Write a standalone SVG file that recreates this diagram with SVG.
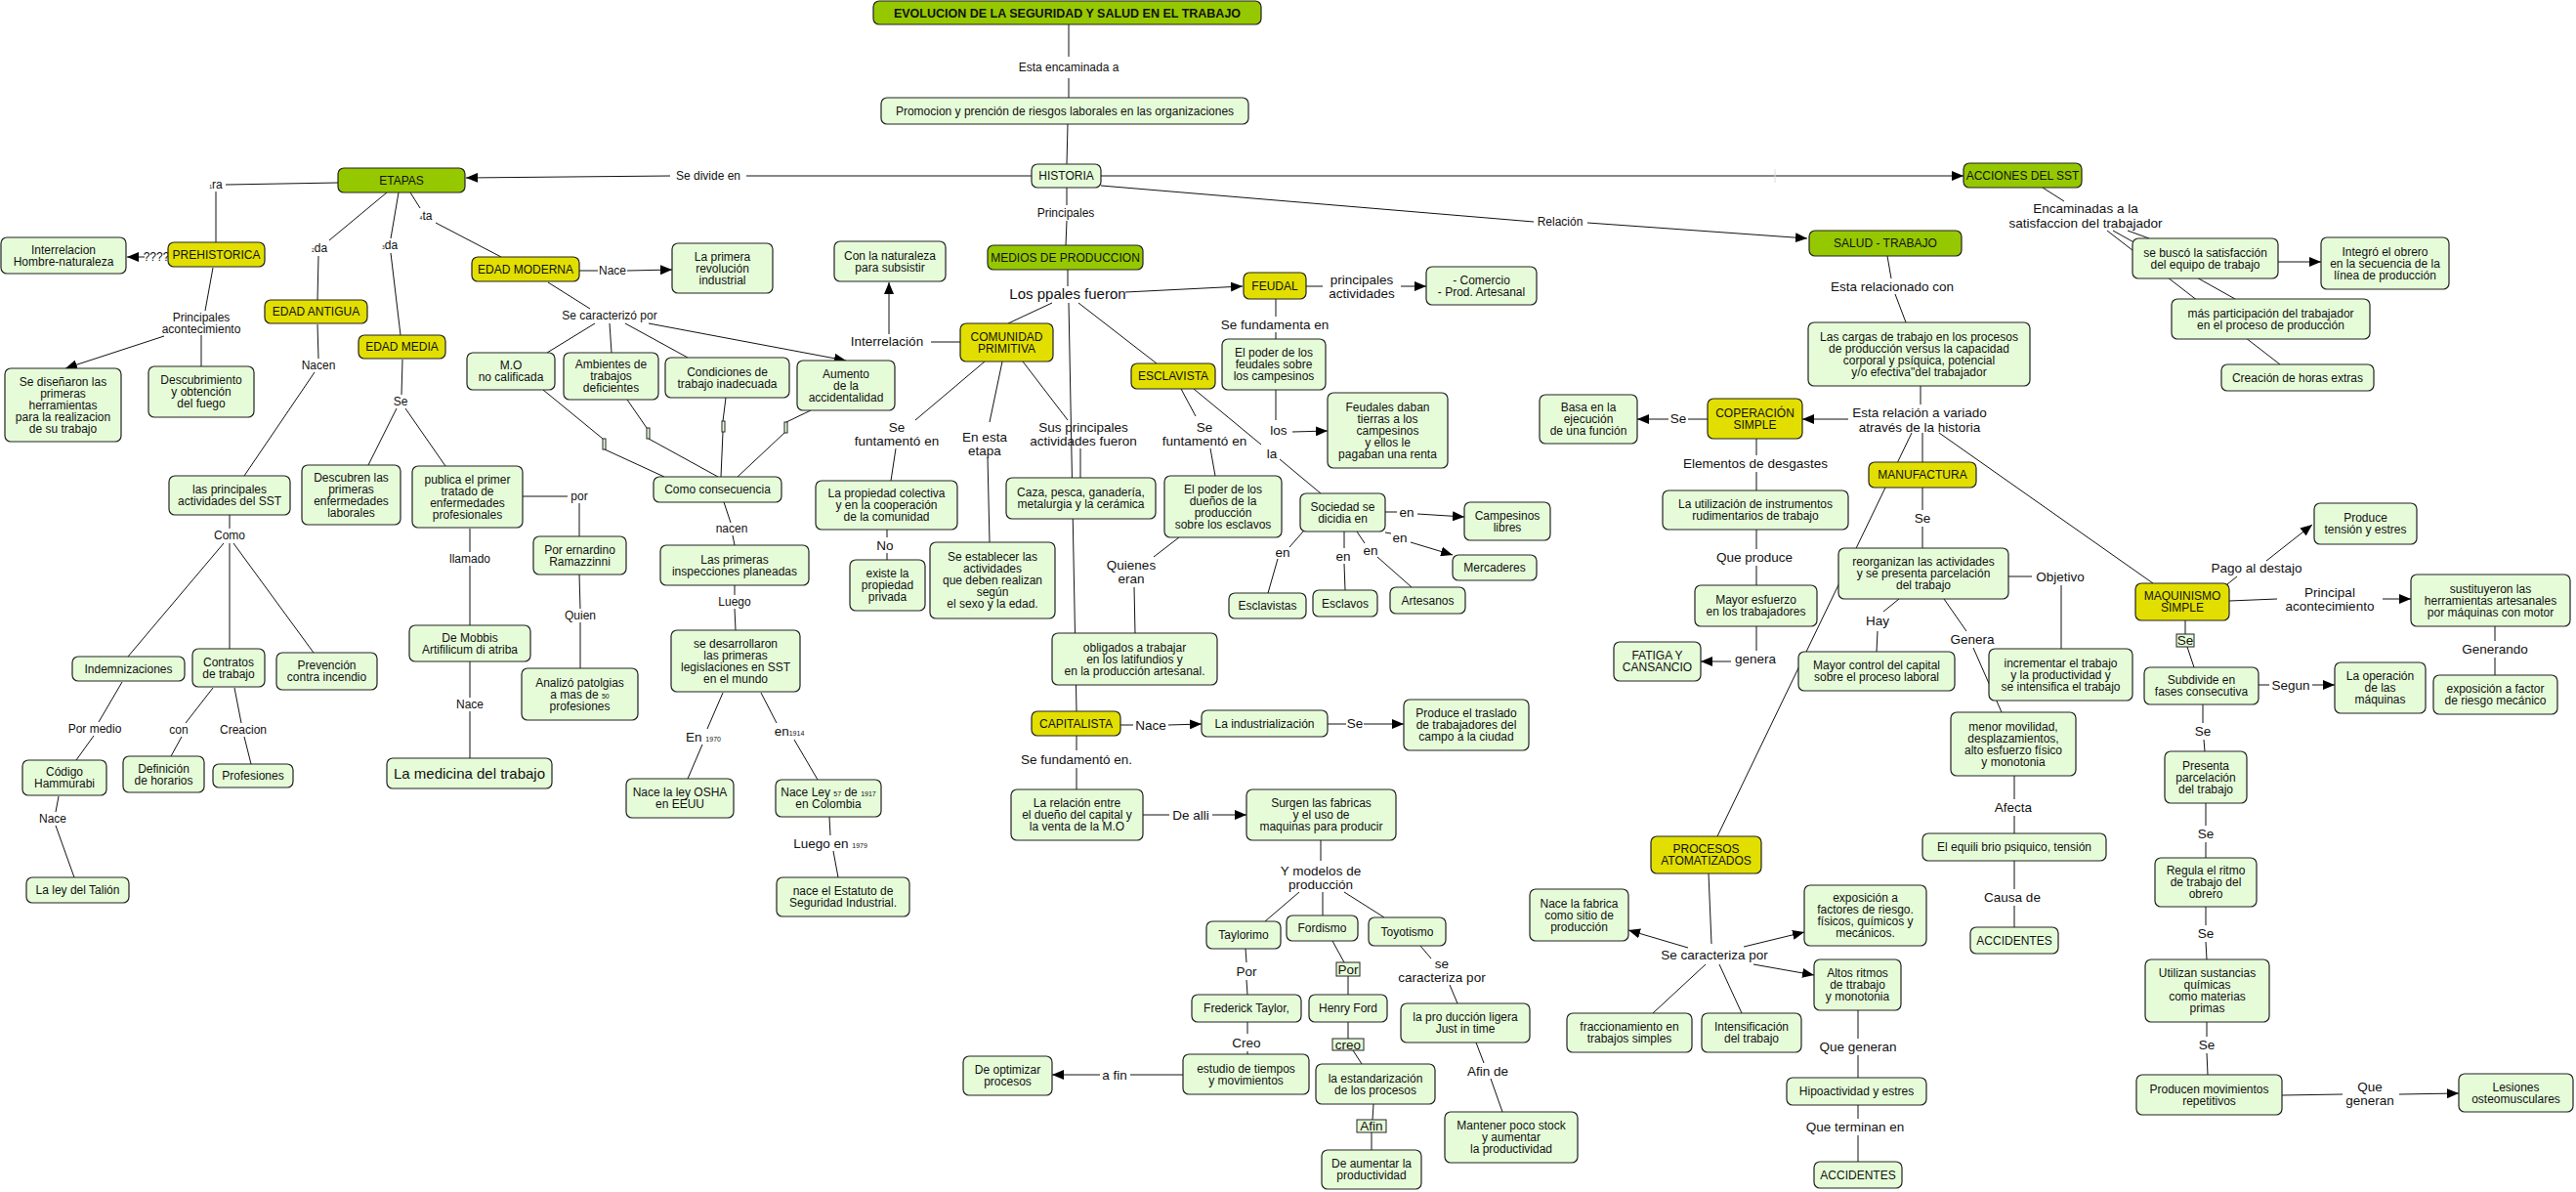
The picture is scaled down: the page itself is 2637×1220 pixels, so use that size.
<svg xmlns="http://www.w3.org/2000/svg" width="2637" height="1220" viewBox="0 0 2637 1220">
<defs>
<marker id="ar" markerUnits="userSpaceOnUse" markerWidth="12" markerHeight="10" refX="12" refY="5" orient="auto"><path d="M0,0 L12,5 L0,10 z" fill="#000"/></marker>
<style>
rect{stroke:#222;stroke-width:1.2}
rect.bg{fill:#fff;stroke:none}
.n{fill:#e6fcd9}
.g{fill:#96c800}
.y{fill:#e2df00}
.m{fill:#e6fcd9;stroke:#222;stroke-width:1}
text{font-family:"Liberation Sans",Arial,sans-serif;font-size:12px;text-anchor:middle;fill:#111}
.tt{font-weight:bold;font-size:12.5px}
.L{font-size:13.5px}
.B{font-size:15px}
.s{font-size:7px}
.c path{stroke:#111;stroke-width:1;fill:none}
.c path.a{marker-end:url(#ar)}
</style>
</defs>
<rect class="bg" width="2637" height="1220"/>
<g class="c">
<path d="M1094,25 L1094,58 M1094,80 L1094,100 M1093,127 L1092,168"/>
<path d="M1056,180 L764,180"/>
<path class="a" d="M686,180 L477,182"/>
<path class="a" d="M1127,180 L2010,180"/>
<path d="M1817,173 L1817,187" style="stroke:#ddd"/>
<path d="M1127,190 L1570,227"/>
<path class="a" d="M1625,228 L1850,244"/>
<path d="M1092,192 L1092,210 M1092,226 L1091,251"/>
<path d="M1932,262 L1936,285 M1940,301 L1951,330"/>
<path d="M2091,192 L2113,206"/>
<path d="M2157,236 L2334,373 M2163,236 L2288,306 M2178,236 L2200,244"/>
<path class="a" d="M2332,268 L2376,268"/>
<path d="M1966,395 L1966,414"/>
<path class="a" d="M1892,429 L1845,429"/>
<path d="M1968,443 L1968,473 M1957,443 L1758,856 M1985,443 L2204,597"/>
<path d="M1748,429 L1728,429"/>
<path class="a" d="M1708,429 L1676,429"/>
<path d="M1798,449 L1798,466 M1798,483 L1798,502 M1798,542 L1798,562 M1798,579 L1798,599 M1798,641 L1798,666"/>
<path class="a" d="M1772,677 L1741,677"/>
<path d="M1968,499 L1968,522 M1968,539 L1968,561"/>
<path d="M2056,590 L2080,590 M2110,599 L2110,664"/>
<path d="M1944,613 L1928,626 M1922,646 L1921,667"/>
<path d="M1990,613 L2013,646 M2020,663 L2049,729"/>
<path d="M2062,794 L2062,818 M2062,835 L2062,853 M2062,881 L2062,910 M2062,927 L2062,949"/>
<path d="M2280,598 L2290,590"/>
<path class="a" d="M2320,574 L2367,537"/>
<path d="M2282,615 L2331,613"/>
<path class="a" d="M2439,613 L2468,613"/>
<path d="M2554,641 L2554,656 M2554,673 L2554,691"/>
<path d="M2237,635 L2237,649 M2239,662 L2246,683"/>
<path d="M2312,701 L2323,701"/>
<path class="a" d="M2367,701 L2390,701"/>
<path d="M2255,721 L2255,740 M2256,757 L2257,769 M2258,822 L2258,845 M2258,862 L2258,878 M2258,928 L2258,947 M2258,964 L2259,982 M2259,1046 L2259,1061 M2259,1078 L2260,1100"/>
<path d="M2336,1121 L2398,1120"/>
<path class="a" d="M2456,1120 L2517,1119"/>
<path d="M346,187 L231,189 M221,196 L221,248"/>
<path class="a" d="M148,263 L130,263"/>
<path d="M218,274 L210,318"/>
<path class="a" d="M168,344 L67,377"/>
<path d="M206,343 L206,375"/>
<path d="M396,197 L337,246 M326,262 L325,307 M325,332 L326,367 M322,381 L250,487 M235,527 L235,541"/>
<path d="M229,556 L131,672 M235,556 L235,664 M239,556 L321,668"/>
<path d="M125,698 L101,739 M96,753 L78,778 M60,815 L57,831 M57,845 L76,898"/>
<path d="M218,704 L190,740 M186,754 L175,774 M240,704 L247,740 M250,754 L257,782"/>
<path d="M408,197 L400,244 M400,259 L410,343 M412,368 L411,404 M406,418 L377,476 M415,418 L456,477"/>
<path d="M535,508 L581,508 M593,515 L593,549 M593,588 L594,623 M594,637 L594,684"/>
<path d="M481,541 L481,565 M481,579 L481,640 M481,677 L481,714 M481,728 L481,776"/>
<path d="M420,197 L430,213 M446,228 L513,263"/>
<path d="M593,277 L612,277"/>
<path class="a" d="M642,277 L688,276"/>
<path d="M561,289 L604,316"/>
<path d="M609,331 L560,361 M624,331 L626,361 M640,331 L704,366"/>
<path class="a" d="M664,331 L866,369"/>
<path d="M556,399 L617,449 M619,460 L680,488 M642,409 L662,438 M664,449 L735,488 M743,407 L740,431 M740,442 L738,488 M830,420 L805,432 M803,443 L755,488"/>
<path d="M741,514 L748,535 M750,548 L752,558 M752,599 L752,609 M752,623 L753,645"/>
<path d="M740,709 L724,746 M719,762 L704,797 M779,709 L795,740 M813,757 L837,798 M849,836 L850,855 M853,871 L858,898"/>
<path d="M1093,276 L1093,293"/>
<path class="a" d="M1152,299 L1272,293"/>
<path d="M1077,310 L1032,331 M1094,310 L1102,728 M1104,310 L1184,372"/>
<path d="M983,350 L953,350"/>
<path class="a" d="M910,342 L910,289"/>
<path d="M1008,370 L937,430 M917,459 L912,492 M908,542 L908,550 M908,566 L908,573"/>
<path d="M1026,370 L1013,432 M1011,468 L1013,555"/>
<path d="M1047,370 L1093,430 M1106,459 L1106,489"/>
<path d="M1209,398 L1224,426 M1239,459 L1244,487 M1207,550 L1181,570 M1161,601 L1162,648"/>
<path d="M1222,398 L1291,455 M1310,470 L1352,505"/>
<path d="M1337,293 L1354,293"/>
<path class="a" d="M1434,293 L1460,293"/>
<path d="M1306,306 L1306,324 M1306,340 L1306,347 M1306,399 L1306,430"/>
<path class="a" d="M1323,442 L1359,441"/>
<path d="M1418,524 L1430,524"/>
<path class="a" d="M1451,526 L1499,529"/>
<path d="M1418,545 L1424,546"/>
<path class="a" d="M1444,555 L1487,568"/>
<path d="M1389,544 L1397,556 M1410,570 L1445,601 M1376,544 L1376,561 M1376,577 L1377,604 M1334,544 L1320,560 M1308,572 L1298,607"/>
<path d="M1147,742 L1160,742"/>
<path class="a" d="M1196,742 L1230,741"/>
<path d="M1359,741 L1378,741"/>
<path class="a" d="M1396,741 L1437,741"/>
<path d="M1102,753 L1102,768 M1102,786 L1102,808"/>
<path d="M1170,834 L1197,834"/>
<path class="a" d="M1241,834 L1276,834"/>
<path d="M1352,860 L1352,881 M1330,913 L1295,943 M1354,913 L1354,937 M1376,913 L1417,939"/>
<path d="M1275,971 L1276,985 M1276,1003 L1277,1018 M1277,1046 L1277,1058 M1277,1076 L1277,1079"/>
<path d="M1211,1100 L1157,1100"/>
<path class="a" d="M1126,1100 L1077,1100"/>
<path d="M1364,963 L1376,985 M1380,999 L1380,1018 M1380,1046 L1380,1063 M1385,1075 L1394,1089 M1406,1130 L1405,1146 M1404,1159 L1404,1177"/>
<path d="M1454,968 L1465,981 M1484,1008 L1492,1027 M1511,1067 L1519,1088 M1526,1104 L1538,1138"/>
<path d="M1749,894 L1752,966"/>
<path class="a" d="M1728,970 L1667,952"/>
<path class="a" d="M1785,969 L1847,954"/>
<path class="a" d="M1795,987 L1857,998"/>
<path d="M1746,987 L1692,1037 M1760,987 L1783,1037"/>
<path d="M1902,1034 L1902,1063 M1902,1080 L1902,1103 M1902,1131 L1902,1145 M1902,1162 L1902,1189"/>
</g>
<g id="labels">
<text x="1094" y="73">Esta encaminada a</text>
<text x="725" y="184">Se divide en</text>
<text x="1091" y="222">Principales</text>
<text x="1597" y="231">Relación</text>
<text class="L" x="1937" y="298">Esta relacionado con</text>
<text class="L" x="2135" y="218">Encaminadas a la<tspan x="2135" dy="15">satisfaccion del trabajador</tspan></text>
<text x="221" y="193"><tspan font-size="5">1</tspan>ra</text>
<text x="160" y="267">????</text>
<text x="206" y="329">Principales<tspan x="206" dy="12">acontecimiento</tspan></text>
<text x="327" y="258"><tspan font-size="5">2</tspan>da</text>
<text x="399" y="255"><tspan font-size="5">3</tspan>da</text>
<text x="436" y="225"><tspan font-size="5">4</tspan>ta</text>
<text x="326" y="378">Nacen</text>
<text x="235" y="552">Como</text>
<text x="97" y="750">Por medio</text>
<text x="183" y="751">con</text>
<text x="249" y="751">Creacion</text>
<text x="54" y="842">Nace</text>
<text x="410" y="415">Se</text>
<text x="593" y="512">por</text>
<text x="594" y="634">Quien</text>
<text x="481" y="576">llamado</text>
<text x="481" y="725">Nace</text>
<text x="627" y="281">Nace</text>
<text x="624" y="327">Se caracterizó por</text>
<text x="749" y="545">nacen</text>
<text x="752" y="620">Luego</text>
<text class="L" x="720" y="759">En <tspan class="s">1970</tspan></text>
<text class="L" x="808" y="753">en<tspan class="s">1914</tspan></text>
<text class="L" x="850" y="868">Luego en <tspan class="s">1979</tspan></text>
<text class="L" x="908" y="354">Interrelación</text>
<text class="B" x="1093" y="306">Los ppales fueron</text>
<text class="L" x="918" y="442">Se<tspan x="918" dy="14">funtamentó en</tspan></text>
<text class="L" x="1008" y="452">En esta<tspan x="1008" dy="14">etapa</tspan></text>
<text class="L" x="906" y="563">No</text>
<text class="L" x="1109" y="442">Sus principales<tspan x="1109" dy="14">actividades fueron</tspan></text>
<text class="L" x="1233" y="442">Se<tspan x="1233" dy="14">funtamentó en</tspan></text>
<text class="L" x="1158" y="583">Quienes<tspan x="1158" dy="14">eran</tspan></text>
<text class="L" x="1302" y="469">la</text>
<text class="L" x="1309" y="445">los</text>
<text class="L" x="1394" y="291">principales<tspan x="1394" dy="14">actividades</tspan></text>
<text class="L" x="1305" y="337">Se fundamenta en</text>
<text class="L" x="1440" y="529">en</text>
<text class="L" x="1433" y="555">en</text>
<text class="L" x="1403" y="568">en</text>
<text class="L" x="1375" y="574">en</text>
<text class="L" x="1313" y="570">en</text>
<text class="L" x="1178" y="747">Nace</text>
<text class="L" x="1387" y="745">Se</text>
<text class="L" x="1102" y="782">Se fundamentó en.</text>
<text class="L" x="1219" y="839">De alli</text>
<text class="L" x="1352" y="896">Y modelos de<tspan x="1352" dy="14">producción</tspan></text>
<text class="L" x="1276" y="999">Por</text>
<text class="L" x="1276" y="1072">Creo</text>
<text class="L" x="1141" y="1105">a fin</text>
<rect class="m" x="1368" y="985" width="24" height="14"/>
<text class="L" x="1380" y="997">Por</text>
<rect class="m" x="1364" y="1063" width="32" height="12"/>
<text class="L" x="1380" y="1074">creo</text>
<rect class="m" x="1389" y="1146" width="30" height="13"/>
<text class="L" x="1404" y="1157">Afin</text>
<text class="L" x="1476" y="991">se<tspan x="1476" dy="14">caracteriza por</tspan></text>
<text class="L" x="1523" y="1101">Afin de</text>
<text class="L" x="1755" y="982">Se caracteriza por</text>
<text class="L" x="1902" y="1076">Que generan</text>
<text class="L" x="1899" y="1158">Que terminan en</text>
<text class="L" x="1965" y="427">Esta relación a variado<tspan x="1965" dy="15">através de la historia</tspan></text>
<text class="L" x="1718" y="433">Se</text>
<text class="L" x="1797" y="479">Elementos de desgastes</text>
<text class="L" x="1796" y="575">Que produce</text>
<text class="L" x="1797" y="679">genera</text>
<text class="L" x="1968" y="535">Se</text>
<text class="L" x="2109" y="595">Objetivo</text>
<text class="L" x="1922" y="640">Hay</text>
<text class="L" x="2019" y="659">Genera</text>
<text class="L" x="2061" y="831">Afecta</text>
<text class="L" x="2060" y="923">Causa de</text>
<text class="L" x="2310" y="586">Pago al destajo</text>
<text class="L" x="2385" y="611">Principal<tspan x="2385" dy="14">acontecimiento</tspan></text>
<text class="L" x="2554" y="669">Generando</text>
<rect class="m" x="2228" y="649" width="18" height="13"/>
<text class="L" x="2237" y="660">Se</text>
<text class="L" x="2345" y="706">Segun</text>
<text class="L" x="2255" y="753">Se</text>
<text class="L" x="2258" y="858">Se</text>
<text class="L" x="2258" y="960">Se</text>
<text class="L" x="2259" y="1074">Se</text>
<text class="L" x="2426" y="1117">Que<tspan x="2426" dy="14">generan</tspan></text>
<rect class="m" x="617" y="449" width="3" height="11"/>
<rect class="m" x="662" y="438" width="3" height="11"/>
<rect class="m" x="739" y="431" width="3" height="11"/>
<rect class="m" x="803" y="432" width="3" height="11"/>
</g>
<g id="title"><rect class="g" x="894" y="1" width="397" height="24" rx="6"/><text class="tt" x="1092.5" y="17.5">EVOLUCION DE LA SEGURIDAD Y SALUD EN EL TRABAJO</text></g>
<g id="promocion"><rect class="n" x="902" y="100" width="376" height="27" rx="6"/><text x="1090" y="117.5">Promocion y prención de riesgos laborales en las organizaciones</text></g>
<g id="historia"><rect class="n" x="1056" y="168" width="71" height="24" rx="6"/><text x="1091.5" y="184">HISTORIA</text></g>
<g id="etapas"><rect class="g" x="346" y="172" width="130" height="25" rx="6"/><text x="411" y="188.5">ETAPAS</text></g>
<g id="acciones"><rect class="g" x="2010" y="167" width="121" height="25" rx="6"/><text x="2070.5" y="183.5">ACCIONES DEL SST</text></g>
<g id="salud"><rect class="g" x="1852" y="236" width="156" height="26" rx="6"/><text x="1930" y="253">SALUD - TRABAJO</text></g>
<g id="cargas"><rect class="n" x="1851" y="330" width="227" height="65" rx="6"/><text x="1964.5" y="348.5">Las cargas de trabajo en los procesos<tspan x="1964.5" dy="12">de producción versus  la capacidad</tspan><tspan x="1964.5" dy="12">corporal y psíquica, potencial</tspan><tspan x="1964.5" dy="12">y/o efectiva"del trabajador</tspan></text></g>
<g id="coperacion"><rect class="y" x="1748" y="408" width="97" height="41" rx="6"/><text x="1796.5" y="426.5">COPERACIÓN<tspan x="1796.5" dy="12">SIMPLE</tspan></text></g>
<g id="basa"><rect class="n" x="1576" y="404" width="100" height="50" rx="6"/><text x="1626" y="421">Basa en la<tspan x="1626" dy="12">ejecución</tspan><tspan x="1626" dy="12">de una función</tspan></text></g>
<g id="manufactura"><rect class="y" x="1913" y="473" width="110" height="26" rx="6"/><text x="1968" y="490">MANUFACTURA</text></g>
<g id="reorganizan"><rect class="n" x="1882" y="561" width="174" height="52" rx="6"/><text x="1969" y="579">reorganizan las actividades<tspan x="1969" dy="12">y se presenta parcelación</tspan><tspan x="1969" dy="12">del trabajo</tspan></text></g>
<g id="incrementar"><rect class="n" x="2036" y="664" width="147" height="53" rx="6"/><text x="2109.5" y="682.5">incrementar el trabajo<tspan x="2109.5" dy="12">y la productividad y</tspan><tspan x="2109.5" dy="12">se intensifica el trabajo</tspan></text></g>
<g id="mayorcontrol"><rect class="n" x="1841" y="667" width="160" height="40" rx="6"/><text x="1921" y="685">Mayor control del capital<tspan x="1921" dy="12">sobre el proceso laboral</tspan></text></g>
<g id="menor"><rect class="n" x="1997" y="729" width="128" height="65" rx="6"/><text x="2061" y="747.5">menor movilidad,<tspan x="2061" dy="12">desplazamientos,</tspan><tspan x="2061" dy="12">alto esfuerzo físico</tspan><tspan x="2061" dy="12">y monotonia</tspan></text></g>
<g id="equilibrio"><rect class="n" x="1968" y="853" width="188" height="28" rx="6"/><text x="2062" y="871">El equili brio psiquico, tensión</text></g>
<g id="accidentes1"><rect class="n" x="2017" y="949" width="90" height="27" rx="6"/><text x="2062" y="966.5">ACCIDENTES</text></g>
<g id="utilizacion"><rect class="n" x="1702" y="502" width="190" height="40" rx="6"/><text x="1797" y="520">La utilización de instrumentos<tspan x="1797" dy="12">rudimentarios de trabajo</tspan></text></g>
<g id="mayoresfuerzo"><rect class="n" x="1735" y="599" width="125" height="42" rx="6"/><text x="1797.5" y="618">Mayor esfuerzo<tspan x="1797.5" dy="12">en los trabajadores</tspan></text></g>
<g id="fatiga"><rect class="n" x="1652" y="657" width="89" height="40" rx="6"/><text x="1696.5" y="675">FATIGA Y<tspan x="1696.5" dy="12">CANSANCIO</tspan></text></g>
<g id="maquinismo"><rect class="y" x="2186" y="597" width="96" height="38" rx="6"/><text x="2234" y="614">MAQUINISMO<tspan x="2234" dy="12">SIMPLE</tspan></text></g>
<g id="tension"><rect class="n" x="2369" y="515" width="105" height="42" rx="6"/><text x="2421.5" y="534">Produce<tspan x="2421.5" dy="12">tensión y estres</tspan></text></g>
<g id="sustituyeron"><rect class="n" x="2468" y="588" width="163" height="53" rx="6"/><text x="2549.5" y="606.5">sustituyeron las<tspan x="2549.5" dy="12">herramientas artesanales</tspan><tspan x="2549.5" dy="12">por máquinas con motor</tspan></text></g>
<g id="expmecanico"><rect class="n" x="2491" y="691" width="127" height="40" rx="6"/><text x="2554.5" y="709">exposición a factor<tspan x="2554.5" dy="12">de riesgo mecánico</tspan></text></g>
<g id="subdivide"><rect class="n" x="2195" y="683" width="117" height="38" rx="6"/><text x="2253.5" y="700">Subdivide en<tspan x="2253.5" dy="12">fases consecutiva</tspan></text></g>
<g id="operacion"><rect class="n" x="2390" y="678" width="93" height="52" rx="6"/><text x="2436.5" y="696">La operación<tspan x="2436.5" dy="12">de las</tspan><tspan x="2436.5" dy="12">máquinas</tspan></text></g>
<g id="presenta"><rect class="n" x="2216" y="769" width="84" height="53" rx="6"/><text x="2258" y="787.5">Presenta<tspan x="2258" dy="12">parcelación</tspan><tspan x="2258" dy="12">del trabajo</tspan></text></g>
<g id="regula"><rect class="n" x="2206" y="878" width="104" height="50" rx="6"/><text x="2258" y="895">Regula el ritmo<tspan x="2258" dy="12">de trabajo del</tspan><tspan x="2258" dy="12">obrero</tspan></text></g>
<g id="utilizan"><rect class="n" x="2196" y="982" width="127" height="64" rx="6"/><text x="2259.5" y="1000">Utilizan sustancias<tspan x="2259.5" dy="12">químicas</tspan><tspan x="2259.5" dy="12">como materias</tspan><tspan x="2259.5" dy="12">primas</tspan></text></g>
<g id="producen"><rect class="n" x="2187" y="1100" width="149" height="41" rx="6"/><text x="2261.5" y="1118.5">Producen movimientos<tspan x="2261.5" dy="12">repetitivos</tspan></text></g>
<g id="lesiones"><rect class="n" x="2517" y="1099" width="117" height="39" rx="6"/><text x="2575.5" y="1116.5">Lesiones<tspan x="2575.5" dy="12">osteomusculares</tspan></text></g>
<g id="sebusco"><rect class="n" x="2183" y="244" width="149" height="41" rx="6"/><text x="2257.5" y="262.5">se buscó la satisfacción<tspan x="2257.5" dy="12">del equipo de trabajo</tspan></text></g>
<g id="integro"><rect class="n" x="2376" y="243" width="131" height="53" rx="6"/><text x="2441.5" y="261.5">Integró el obrero<tspan x="2441.5" dy="12">en la secuencia de la</tspan><tspan x="2441.5" dy="12">línea de producción</tspan></text></g>
<g id="masparticipacion"><rect class="n" x="2223" y="306" width="203" height="41" rx="6"/><text x="2324.5" y="324.5">más participación del trabajador<tspan x="2324.5" dy="12">en el proceso de producción</tspan></text></g>
<g id="horasextras"><rect class="n" x="2274" y="373" width="156" height="27" rx="6"/><text x="2352" y="390.5">Creación de horas extras</text></g>
<g id="prehistorica"><rect class="y" x="172" y="248" width="99" height="25" rx="6"/><text x="221.5" y="264.5">PREHISTORICA</text></g>
<g id="interrelacion"><rect class="n" x="1" y="243" width="128" height="37" rx="6"/><text x="65" y="259.5">Interrelacion<tspan x="65" dy="12">Hombre-naturaleza</tspan></text></g>
<g id="disenaron"><rect class="n" x="5" y="377" width="119" height="75" rx="6"/><text x="64.5" y="394.5">Se diseñaron las<tspan x="64.5" dy="12">primeras</tspan><tspan x="64.5" dy="12">herramientas</tspan><tspan x="64.5" dy="12">para la realizacion</tspan><tspan x="64.5" dy="12">de su trabajo</tspan></text></g>
<g id="descubrimiento"><rect class="n" x="152" y="375" width="108" height="52" rx="6"/><text x="206" y="393">Descubrimiento<tspan x="206" dy="12">y obtención</tspan><tspan x="206" dy="12">del fuego</tspan></text></g>
<g id="edadantigua"><rect class="y" x="271" y="307" width="105" height="24" rx="6"/><text x="323.5" y="323">EDAD ANTIGUA</text></g>
<g id="principalesSST"><rect class="n" x="173" y="487" width="124" height="40" rx="6"/><text x="235" y="505">las principales<tspan x="235" dy="12">actividades del SST</tspan></text></g>
<g id="indemnizaciones"><rect class="n" x="74" y="672" width="115" height="25" rx="6"/><text x="131.5" y="688.5">Indemnizaciones</text></g>
<g id="contratos"><rect class="n" x="197" y="664" width="74" height="39" rx="6"/><text x="234" y="681.5">Contratos<tspan x="234" dy="12">de trabajo</tspan></text></g>
<g id="prevencion"><rect class="n" x="283" y="668" width="103" height="38" rx="6"/><text x="334.5" y="685">Prevención<tspan x="334.5" dy="12">contra incendio</tspan></text></g>
<g id="codigo"><rect class="n" x="23" y="778" width="86" height="36" rx="6"/><text x="66" y="794">Código<tspan x="66" dy="12">Hammurabi</tspan></text></g>
<g id="talion"><rect class="n" x="27" y="898" width="105" height="26" rx="6"/><text x="79.5" y="915">La ley del Talión</text></g>
<g id="definicion"><rect class="n" x="126" y="774" width="83" height="37" rx="6"/><text x="167.5" y="790.5">Definición<tspan x="167.5" dy="12">de horarios</tspan></text></g>
<g id="profesiones"><rect class="n" x="218" y="782" width="82" height="24" rx="6"/><text x="259" y="798">Profesiones</text></g>
<g id="edadmedia"><rect class="y" x="367" y="343" width="89" height="24" rx="6"/><text x="411.5" y="359">EDAD MEDIA</text></g>
<g id="descubren"><rect class="n" x="309" y="476" width="101" height="61" rx="6"/><text x="359.5" y="492.5">Descubren las<tspan x="359.5" dy="12">primeras</tspan><tspan x="359.5" dy="12">enfermedades</tspan><tspan x="359.5" dy="12">laborales</tspan></text></g>
<g id="publica"><rect class="n" x="422" y="477" width="113" height="63" rx="6"/><text x="478.5" y="494.5">publica el primer<tspan x="478.5" dy="12">tratado de</tspan><tspan x="478.5" dy="12">enfermedades</tspan><tspan x="478.5" dy="12">profesionales</tspan></text></g>
<g id="ramazzinni"><rect class="n" x="546" y="549" width="95" height="39" rx="6"/><text x="593.5" y="566.5">Por ernardino<tspan x="593.5" dy="12">Ramazzinni</tspan></text></g>
<g id="analizo"><rect class="n" x="534" y="684" width="119" height="53" rx="6"/><text x="593.5" y="702.5">Analizó patolgias<tspan x="593.5" dy="12">a mas de <tspan class="s">50</tspan></tspan><tspan x="593.5" dy="12">profesiones</tspan></text></g>
<g id="mobbis"><rect class="n" x="419" y="640" width="124" height="37" rx="6"/><text x="481" y="656.5">De Mobbis<tspan x="481" dy="12">Artifilicum di atriba</tspan></text></g>
<g id="medicina"><rect class="n" x="396" y="776" width="169" height="31" rx="6"/><text class="B" x="480.5" y="797">La medicina del trabajo</text></g>
<g id="edadmoderna"><rect class="y" x="483" y="263" width="110" height="25" rx="6"/><text x="538" y="279.5">EDAD MODERNA</text></g>
<g id="revolucion"><rect class="n" x="688" y="249" width="103" height="51" rx="6"/><text x="739.5" y="266.5">La primera<tspan x="739.5" dy="12">revolución</tspan><tspan x="739.5" dy="12">industrial</tspan></text></g>
<g id="mo"><rect class="n" x="478" y="361" width="90" height="38" rx="6"/><text x="523" y="378">M.O<tspan x="523" dy="12">no calificada</tspan></text></g>
<g id="ambientes"><rect class="n" x="577" y="361" width="97" height="48" rx="6"/><text x="625.5" y="377">Ambientes de<tspan x="625.5" dy="12">trabajos</tspan><tspan x="625.5" dy="12">deficientes</tspan></text></g>
<g id="condiciones"><rect class="n" x="681" y="366" width="127" height="41" rx="6"/><text x="744.5" y="384.5">Condiciones de<tspan x="744.5" dy="12">trabajo inadecuada</tspan></text></g>
<g id="aumento"><rect class="n" x="816" y="369" width="100" height="51" rx="6"/><text x="866" y="386.5">Aumento<tspan x="866" dy="12">de la</tspan><tspan x="866" dy="12">accidentalidad</tspan></text></g>
<g id="consecuencia"><rect class="n" x="669" y="488" width="131" height="26" rx="6"/><text x="734.5" y="505">Como consecuencia</text></g>
<g id="inspecciones"><rect class="n" x="676" y="558" width="152" height="41" rx="6"/><text x="752" y="576.5">Las primeras<tspan x="752" dy="12">inspecciones planeadas</tspan></text></g>
<g id="legislaciones"><rect class="n" x="687" y="645" width="132" height="63" rx="6"/><text x="753" y="662.5">se desarrollaron<tspan x="753" dy="12">las primeras</tspan><tspan x="753" dy="12">legislaciones en SST</tspan><tspan x="753" dy="12">en el mundo</tspan></text></g>
<g id="osha"><rect class="n" x="641" y="797" width="110" height="40" rx="6"/><text x="696" y="815">Nace la ley OSHA<tspan x="696" dy="12">en EEUU</tspan></text></g>
<g id="ley57"><rect class="n" x="794" y="798" width="108" height="38" rx="6"/><text x="848" y="815">Nace Ley <tspan class="s">57</tspan> de <tspan class="s">1917</tspan><tspan x="848" dy="12">en Colombia</tspan></text></g>
<g id="estatuto"><rect class="n" x="795" y="898" width="136" height="40" rx="6"/><text x="863" y="916">nace el Estatuto de<tspan x="863" dy="12">Seguridad Industrial.</tspan></text></g>
<g id="medios"><rect class="g" x="1011" y="251" width="159" height="25" rx="6"/><text x="1090.5" y="267.5">MEDIOS DE PRODUCCION</text></g>
<g id="naturaleza"><rect class="n" x="854" y="247" width="114" height="41" rx="6"/><text x="911" y="265.5">Con la naturaleza<tspan x="911" dy="12">para subsistir</tspan></text></g>
<g id="comunidad"><rect class="y" x="983" y="331" width="95" height="39" rx="6"/><text x="1030.5" y="348.5">COMUNIDAD<tspan x="1030.5" dy="12">PRIMITIVA</tspan></text></g>
<g id="propiedadcol"><rect class="n" x="835" y="492" width="145" height="50" rx="6"/><text x="907.5" y="509">La propiedad colectiva<tspan x="907.5" dy="12">y en la cooperación</tspan><tspan x="907.5" dy="12">de la comunidad</tspan></text></g>
<g id="propiedadpriv"><rect class="n" x="870" y="573" width="77" height="52" rx="6"/><text x="908.5" y="591">existe la<tspan x="908.5" dy="12">propiedad</tspan><tspan x="908.5" dy="12">privada</tspan></text></g>
<g id="seestablecer"><rect class="n" x="952" y="555" width="128" height="78" rx="6"/><text x="1016" y="574">Se establecer las<tspan x="1016" dy="12">actividades</tspan><tspan x="1016" dy="12">que deben realizan</tspan><tspan x="1016" dy="12">según</tspan><tspan x="1016" dy="12">el sexo y la edad.</tspan></text></g>
<g id="caza"><rect class="n" x="1030" y="489" width="153" height="42" rx="6"/><text x="1106.5" y="508">Caza, pesca, ganadería,<tspan x="1106.5" dy="12">metalurgia y la cerámica</tspan></text></g>
<g id="esclavista"><rect class="y" x="1158" y="372" width="86" height="26" rx="6"/><text x="1201" y="389">ESCLAVISTA</text></g>
<g id="poderesclavos"><rect class="n" x="1192" y="487" width="120" height="63" rx="6"/><text x="1252" y="504.5">El poder de los<tspan x="1252" dy="12">dueños de la</tspan><tspan x="1252" dy="12">producción</tspan><tspan x="1252" dy="12">sobre los esclavos</tspan></text></g>
<g id="obligados"><rect class="n" x="1077" y="648" width="169" height="53" rx="6"/><text x="1161.5" y="666.5">obligados a trabajar<tspan x="1161.5" dy="12">en los latifundios y</tspan><tspan x="1161.5" dy="12">en la producción artesanal.</tspan></text></g>
<g id="feudal"><rect class="y" x="1273" y="279" width="64" height="27" rx="6"/><text x="1305" y="296.5">FEUDAL</text></g>
<g id="comercio"><rect class="n" x="1460" y="273" width="113" height="39" rx="6"/><text x="1516.5" y="290.5">- Comercio<tspan x="1516.5" dy="12">-  Prod. Artesanal</tspan></text></g>
<g id="poderfeudal"><rect class="n" x="1251" y="347" width="106" height="52" rx="6"/><text x="1304" y="365">El poder de los<tspan x="1304" dy="12">feudales sobre</tspan><tspan x="1304" dy="12">los campesinos</tspan></text></g>
<g id="feudalesdaban"><rect class="n" x="1359" y="402" width="123" height="77" rx="6"/><text x="1420.5" y="420.5">Feudales daban<tspan x="1420.5" dy="12">tierras a los</tspan><tspan x="1420.5" dy="12">campesinos</tspan><tspan x="1420.5" dy="12">y ellos le</tspan><tspan x="1420.5" dy="12">pagaban una renta</tspan></text></g>
<g id="sociedad"><rect class="n" x="1331" y="505" width="87" height="39" rx="6"/><text x="1374.5" y="522.5">Sociedad se<tspan x="1374.5" dy="12">dicidia en</tspan></text></g>
<g id="campesinos"><rect class="n" x="1499" y="514" width="88" height="39" rx="6"/><text x="1543" y="531.5">Campesinos<tspan x="1543" dy="12">libres</tspan></text></g>
<g id="mercaderes"><rect class="n" x="1487" y="568" width="86" height="26" rx="6"/><text x="1530" y="585">Mercaderes</text></g>
<g id="artesanos"><rect class="n" x="1423" y="601" width="77" height="27" rx="6"/><text x="1461.5" y="618.5">Artesanos</text></g>
<g id="esclavos"><rect class="n" x="1344" y="604" width="66" height="27" rx="6"/><text x="1377" y="621.5">Esclavos</text></g>
<g id="esclavistas"><rect class="n" x="1258" y="607" width="79" height="26" rx="6"/><text x="1297.5" y="624">Esclavistas</text></g>
<g id="capitalista"><rect class="y" x="1056" y="728" width="91" height="25" rx="6"/><text x="1101.5" y="744.5">CAPITALISTA</text></g>
<g id="industrializacion"><rect class="n" x="1230" y="727" width="129" height="27" rx="6"/><text x="1294.5" y="744.5">La industrialización</text></g>
<g id="traslado"><rect class="n" x="1437" y="716" width="128" height="52" rx="6"/><text x="1501" y="734">Produce el traslado<tspan x="1501" dy="12">de trabajadores del</tspan><tspan x="1501" dy="12">campo a la ciudad</tspan></text></g>
<g id="relacion"><rect class="n" x="1035" y="808" width="135" height="52" rx="6"/><text x="1102.5" y="826">La relación entre<tspan x="1102.5" dy="12">el dueño del capital y</tspan><tspan x="1102.5" dy="12">la venta de la M.O</tspan></text></g>
<g id="surgen"><rect class="n" x="1276" y="808" width="153" height="52" rx="6"/><text x="1352.5" y="826">Surgen las fabricas<tspan x="1352.5" dy="12">y el uso de</tspan><tspan x="1352.5" dy="12">maquinas para producir</tspan></text></g>
<g id="taylorimo"><rect class="n" x="1235" y="943" width="76" height="28" rx="6"/><text x="1273" y="961">Taylorimo</text></g>
<g id="fordismo"><rect class="n" x="1317" y="937" width="73" height="26" rx="6"/><text x="1353.5" y="954">Fordismo</text></g>
<g id="toyotismo"><rect class="n" x="1401" y="939" width="79" height="29" rx="6"/><text x="1440.5" y="957.5">Toyotismo</text></g>
<g id="frederick"><rect class="n" x="1220" y="1018" width="112" height="28" rx="6"/><text x="1276" y="1036">Frederick Taylor,</text></g>
<g id="estudio"><rect class="n" x="1211" y="1079" width="129" height="41" rx="6"/><text x="1275.5" y="1097.5">estudio de tiempos<tspan x="1275.5" dy="12">y movimientos</tspan></text></g>
<g id="optimizar"><rect class="n" x="986" y="1081" width="91" height="40" rx="6"/><text x="1031.5" y="1099">De optimizar<tspan x="1031.5" dy="12">procesos</tspan></text></g>
<g id="henry"><rect class="n" x="1340" y="1018" width="80" height="28" rx="6"/><text x="1380" y="1036">Henry Ford</text></g>
<g id="estandarizacion"><rect class="n" x="1347" y="1089" width="122" height="41" rx="6"/><text x="1408" y="1107.5">la estandarización<tspan x="1408" dy="12">de los procesos</tspan></text></g>
<g id="aumentar"><rect class="n" x="1353" y="1177" width="102" height="40" rx="6"/><text x="1404" y="1195">De aumentar la<tspan x="1404" dy="12">productividad</tspan></text></g>
<g id="ligera"><rect class="n" x="1434" y="1027" width="132" height="40" rx="6"/><text x="1500" y="1045">la pro ducción ligera<tspan x="1500" dy="12">Just in time</tspan></text></g>
<g id="mantener"><rect class="n" x="1479" y="1138" width="136" height="52" rx="6"/><text x="1547" y="1156">Mantener poco stock<tspan x="1547" dy="12">y aumentar</tspan><tspan x="1547" dy="12">la productividad</tspan></text></g>
<g id="procesos"><rect class="y" x="1690" y="856" width="113" height="38" rx="6"/><text x="1746.5" y="873">PROCESOS<tspan x="1746.5" dy="12">ATOMATIZADOS</tspan></text></g>
<g id="fabrica"><rect class="n" x="1566" y="910" width="101" height="53" rx="6"/><text x="1616.5" y="928.5">Nace la fabrica<tspan x="1616.5" dy="12">como sitio de</tspan><tspan x="1616.5" dy="12">producción</tspan></text></g>
<g id="expfactores"><rect class="n" x="1847" y="906" width="125" height="62" rx="6"/><text x="1909.5" y="923">exposición a<tspan x="1909.5" dy="12">factores de riesgo.</tspan><tspan x="1909.5" dy="12">físicos, químicos y</tspan><tspan x="1909.5" dy="12">mecánicos.</tspan></text></g>
<g id="altos"><rect class="n" x="1857" y="982" width="89" height="52" rx="6"/><text x="1901.5" y="1000">Altos ritmos<tspan x="1901.5" dy="12">de ttrabajo</tspan><tspan x="1901.5" dy="12">y monotonia</tspan></text></g>
<g id="fraccionamiento"><rect class="n" x="1604" y="1037" width="128" height="40" rx="6"/><text x="1668" y="1055">fraccionamiento en<tspan x="1668" dy="12">trabajos simples</tspan></text></g>
<g id="intensificacion"><rect class="n" x="1742" y="1037" width="102" height="40" rx="6"/><text x="1793" y="1055">Intensificación<tspan x="1793" dy="12">del trabajo</tspan></text></g>
<g id="hipoactividad"><rect class="n" x="1829" y="1103" width="143" height="28" rx="6"/><text x="1900.5" y="1121">Hipoactividad y estres</text></g>
<g id="accidentes2"><rect class="n" x="1857" y="1189" width="90" height="27" rx="6"/><text x="1902" y="1206.5">ACCIDENTES</text></g>
</svg>
